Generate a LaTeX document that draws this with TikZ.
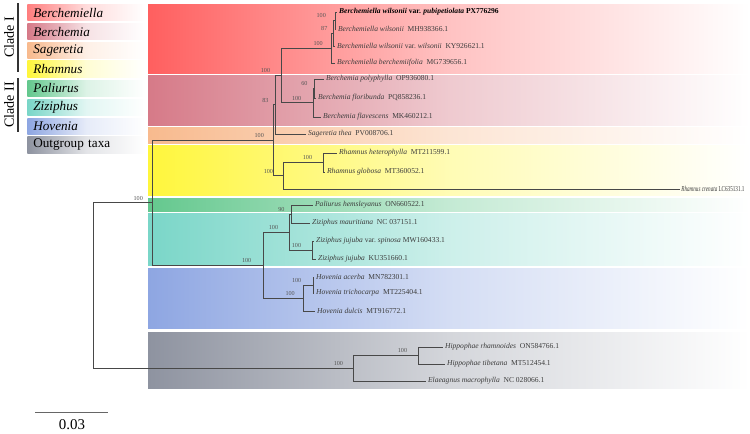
\documentclass[tikz,border=0pt]{standalone}
\usepackage{fontspec}
\setmainfont{Liberation Serif}
\usepackage{graphicx}
\usetikzlibrary{positioning,calc}
\definecolor{treeLine}{RGB}{72, 72, 72}
\definecolor{taxonText}{RGB}{60, 60, 60}
\definecolor{bootText}{RGB}{85, 85, 85}
\definecolor{bandRed}{RGB}{255, 95, 95}
\definecolor{bandRose}{RGB}{214, 122, 136}
\definecolor{bandOrange}{RGB}{248, 186, 142}
\definecolor{bandYellow}{RGB}{255, 246, 60}
\definecolor{bandGreen}{RGB}{100, 200, 142}
\definecolor{bandTeal}{RGB}{122, 214, 200}
\definecolor{bandBlue}{RGB}{142, 166, 226}
\definecolor{bandGray}{RGB}{142, 147, 160}

\begin{document}
\begin{tikzpicture}[
  x=0.02cm,
  y=-0.02cm,
  branch/.style={draw=treeLine, line width=0.55pt},
  taxon/.style={
    anchor=west,
    inner xsep=1pt,
    inner ysep=0pt,
    text=taxonText,
    font=\fontsize{4.3}{5}\selectfont
  },
  boot/.style={inner sep=0pt, text=bootText, font=\fontsize{3.5}{4}\selectfont},
  legbox/.style={
    anchor=west,
    minimum height=0.33cm,
    text width=2.12cm,
    inner xsep=0.12cm,
    inner ysep=0pt,
    align=left,
    font=\fontsize{7.5}{9}\selectfont
  },
  cladetext/.style={rotate=90, inner sep=0pt, font=\fontsize{8}{9}\selectfont},
  cladebar/.style={draw=black!80, line width=0.6pt}
]
  \useasboundingbox (0,0) rectangle (750,433);

  % coloured bands behind the tree
  \shade[left color=bandRed, right color=white, middle color=bandRed!38!white] (148,4) rectangle (750,73);
  \shade[left color=bandRose, right color=white, middle color=bandRose!40!white] (148,75.5) rectangle (750,125);
  \shade[left color=bandOrange, right color=white, middle color=bandOrange!38!white] (148,127) rectangle (750,143);
  \shade[left color=bandYellow, right color=white, middle color=bandYellow!38!white] (148,145) rectangle (750,195.5);
  \shade[left color=bandGreen, right color=white, middle color=bandGreen!38!white] (148,198) rectangle (750,211);
  \shade[left color=bandTeal, right color=white, middle color=bandTeal!38!white] (148,213) rectangle (750,265.5);
  \shade[left color=bandBlue, right color=white, middle color=bandBlue!38!white] (148,268) rectangle (750,328);
  \shade[left color=bandGray, right color=white, middle color=bandGray!38!white] (148,332) rectangle (750,388);

  % legend
  \node[legbox,left color=bandRed!80!white,right color=white,middle color=bandRed!22!white] (leg-bml) at (27,12.5) {\textit{Berchemiella}};
  \node[legbox,left color=bandRose,right color=white,middle color=bandRose!22!white] (leg-bm) at (27,31.5) {\textit{Berchemia}};
  \node[legbox,left color=bandOrange,right color=white,middle color=bandOrange!22!white] (leg-sg) at (27,50.5) {\textit{Sageretia}};
  \node[legbox,left color=bandYellow,right color=white,middle color=bandYellow!22!white] (leg-rh) at (27,69) {\textit{Rhamnus}};
  \node[legbox,left color=bandGreen,right color=white,middle color=bandGreen!22!white] (leg-pa) at (27,88.5) {\textit{Paliurus}};
  \node[legbox,left color=bandTeal,right color=white,middle color=bandTeal!22!white] (leg-zi) at (27,107.5) {\textit{Ziziphus}};
  \node[legbox,left color=bandBlue,right color=white,middle color=bandBlue!22!white] (leg-ho) at (27,126.5) {\textit{Hovenia}};
  \node[legbox,left color=bandGray,right color=white,middle color=bandGray!25!white] (leg-og) at (27,145) {Outgroup taxa};
  \coordinate (bar1-top) at (18,3);
  \coordinate (bar1-bot) at (18,72);
  \coordinate (bar2-top) at (18,78);
  \coordinate (bar2-bot) at (18,132);
  \draw[cladebar] (bar1-top) -- (bar1-bot);
  \draw[cladebar] (bar2-top) -- (bar2-bot);
  \node[cladetext] (clade-one) at (9,37.5) {Clade I};
  \node[cladetext] (clade-two) at (9,105) {Clade II};

  % leaves
  \node[taxon,text=black] (lf-bwpub) at (337,12) {\textbf{\textit{Berchemiella wilsonii} var. \textit{pubipetiolata} PX776296}};
  \node[taxon] (lf-bw) at (336,29) {\textit{Berchemiella wilsonii}\enspace MH938366.1};
  \node[taxon] (lf-bwwil) at (335,46) {\textit{Berchemiella wilsonii} var.\ \textit{wilsonii}\enspace KY926621.1};
  \node[taxon] (lf-bb) at (335,63) {\textit{Berchemiella berchemiifolia}\enspace MG739656.1};
  \node[taxon] (lf-bpoly) at (324,79) {\textit{Berchemia polyphylla}\enspace OP936080.1};
  \node[taxon] (lf-bflor) at (316,98) {\textit{Berchemia floribunda}\enspace PQ858236.1};
  \node[taxon] (lf-bflav) at (321,117) {\textit{Berchemia flavescens}\enspace MK460212.1};
  \node[taxon] (lf-sthea) at (306,134) {\textit{Sageretia thea}\enspace PV008706.1};
  \node[taxon] (lf-rhet) at (337,153) {\textit{Rhamnus heterophylla}\enspace MT211599.1};
  \node[taxon] (lf-rglo) at (325,172) {\textit{Rhamnus globosa}\enspace MT360052.1};
  \node[taxon,inner xsep=0.6pt] (lf-rcre) at (680,189) {\scalebox{0.68}[1]{\textit{Rhamnus crenata} LC635131.1}};
  \node[taxon] (lf-phem) at (313,205) {\textit{Paliurus hemsleyanus}\enspace ON660522.1};
  \node[taxon] (lf-zmau) at (310,223) {\textit{Ziziphus mauritiana}\enspace NC 037151.1};
  \node[taxon] (lf-zspi) at (314,241) {\textit{Ziziphus jujuba} var.\ \textit{spinosa} MW160433.1};
  \node[taxon] (lf-zjuj) at (316,259) {\textit{Ziziphus jujuba}\enspace KU351660.1};
  \node[taxon] (lf-hace) at (314,277) {\textit{Hovenia acerba}\enspace MN782301.1};
  \node[taxon] (lf-htri) at (314,293) {\textit{Hovenia trichocarpa}\enspace MT225404.1};
  \node[taxon] (lf-hdul) at (315,311) {\textit{Hovenia dulcis}\enspace MT916772.1};
  \node[taxon] (lf-hrha) at (443,347) {\textit{Hippophae rhamnoides}\enspace ON584766.1};
  \node[taxon] (lf-htib) at (445,364) {\textit{Hippophae tibetana}\enspace MT512454.1};
  \node[taxon] (lf-emac) at (426,381) {\textit{Elaeagnus macrophylla}\enspace NC 028066.1};

  % inner nodes
  \coordinate (n-bw1) at (335,20.5);
  \coordinate (n-bw2) at (333,33.3);
  \coordinate (n-bw3) at (331,48);
  \coordinate (n-bm1) at (314,88.5);
  \coordinate (n-bm2) at (313,102.8);
  \coordinate (n-bb) at (281,75.4);
  \coordinate (n-c83) at (275,104.7);
  \coordinate (n-rh1) at (323,162.5);
  \coordinate (n-rh2) at (283,175.8);
  \coordinate (n-c1) at (273,140.2);
  \coordinate (n-z1) at (291,214);
  \coordinate (n-z2) at (312,250);
  \coordinate (n-z3) at (289,232);
  \coordinate (n-h1) at (313,285);
  \coordinate (n-h2) at (303,298);
  \coordinate (n-c2) at (263,265);
  \coordinate (n-in) at (152,202.6);
  \coordinate (n-o1) at (418,355.5);
  \coordinate (n-o2) at (353,368.2);
  \coordinate (n-root) at (93,285.4);

  % branches
  \draw[branch] (n-root) |- (n-in);
  \draw[branch] (n-root) |- (n-o2);
  \draw[branch] (n-in) |- (n-c1);
  \draw[branch] (n-in) |- (n-c2);
  \draw[branch] (n-c1) |- (n-c83);
  \draw[branch] (n-c1) |- (n-rh2);
  \draw[branch] (n-c83) |- (n-bb);
  \draw[branch] (n-c83) |- (lf-sthea.west);
  \draw[branch] (n-bb) |- (n-bw3);
  \draw[branch] (n-bb) |- (n-bm2);
  \draw[branch] (n-bw3) |- (n-bw2);
  \draw[branch] (n-bw3) |- (lf-bb.west);
  \draw[branch] (n-bw2) |- (n-bw1);
  \draw[branch] (n-bw2) |- (lf-bwwil.west);
  \draw[branch] (n-bw1) |- (lf-bwpub.west);
  \draw[branch] (n-bw1) |- (lf-bw.west);
  \draw[branch] (n-bm2) |- (n-bm1);
  \draw[branch] (n-bm2) |- (lf-bflav.west);
  \draw[branch] (n-bm1) |- (lf-bpoly.west);
  \draw[branch] (n-bm1) |- (lf-bflor.west);
  \draw[branch] (n-rh2) |- (n-rh1);
  \draw[branch] (n-rh2) |- (lf-rcre.west);
  \draw[branch] (n-rh1) |- (lf-rhet.west);
  \draw[branch] (n-rh1) |- (lf-rglo.west);
  \draw[branch] (n-c2) |- (n-z3);
  \draw[branch] (n-c2) |- (n-h2);
  \draw[branch] (n-z3) |- (n-z1);
  \draw[branch] (n-z3) |- (n-z2);
  \draw[branch] (n-z1) |- (lf-phem.west);
  \draw[branch] (n-z1) |- (lf-zmau.west);
  \draw[branch] (n-z2) |- (lf-zspi.west);
  \draw[branch] (n-z2) |- (lf-zjuj.west);
  \draw[branch] (n-h2) |- (n-h1);
  \draw[branch] (n-h2) |- (lf-hdul.west);
  \draw[branch] (n-h1) |- (lf-hace.west);
  \draw[branch] (n-h1) |- (lf-htri.west);
  \draw[branch] (n-o2) |- (n-o1);
  \draw[branch] (n-o2) |- (lf-emac.west);
  \draw[branch] (n-o1) |- (lf-hrha.west);
  \draw[branch] (n-o1) |- (lf-htib.west);

  % support values
  \node[boot,above left=1.2pt and 5pt of n-in] (bs-in) {100};
  \node[boot,above left=1.2pt and 5pt of n-c1] (bs-c1) {100};
  \node[boot,above left=1.2pt and 3.5pt of n-c83] (bs-c83) {83};
  \node[boot,above left=1.2pt and 6pt of n-bb] (bs-bb) {100};
  \node[boot,above left=1.2pt and 4.5pt of n-bw3] (bs-bw3) {100};
  \node[boot,above left=1.2pt and 3pt of n-bw2] (bs-bw2) {87};
  \node[boot,above left=1.2pt and 5pt of n-bw1] (bs-bw1) {100};
  \node[boot,above left=1.2pt and 6.5pt of n-bm2] (bs-bm2) {100};
  \node[boot,above left=1.2pt and 3.5pt of n-bm1] (bs-bm1) {60};
  \node[boot,above left=1.2pt and 5.5pt of n-rh2] (bs-rh2) {100};
  \node[boot,above left=1.2pt and 6pt of n-rh1] (bs-rh1) {100};
  \node[boot,above left=1.2pt and 6.5pt of n-c2] (bs-c2) {100};
  \node[boot,above left=1.2pt and 6pt of n-z3] (bs-z3) {100};
  \node[boot,above left=1.2pt and 3.5pt of n-z1] (bs-z1) {90};
  \node[boot,above left=1.2pt and 6pt of n-z2] (bs-z2) {100};
  \node[boot,above left=1.2pt and 4.5pt of n-h2] (bs-h2) {100};
  \node[boot,above left=1.2pt and 6.5pt of n-h1] (bs-h1) {100};
  \node[boot,above left=1.2pt and 5.5pt of n-o2] (bs-o2) {100};
  \node[boot,above left=1.2pt and 6pt of n-o1] (bs-o1) {100};

  % scale bar
  \coordinate (sb-left) at (35,412);
  \coordinate (sb-right) at (108,412);
  \draw[draw=black!60, line width=0.5pt] (sb-left) -- (sb-right);
  \node[inner sep=0pt, font=\fontsize{8.5}{10}\selectfont] (sb-text) at (72,425) {0.03};
\end{tikzpicture}
\end{document}
